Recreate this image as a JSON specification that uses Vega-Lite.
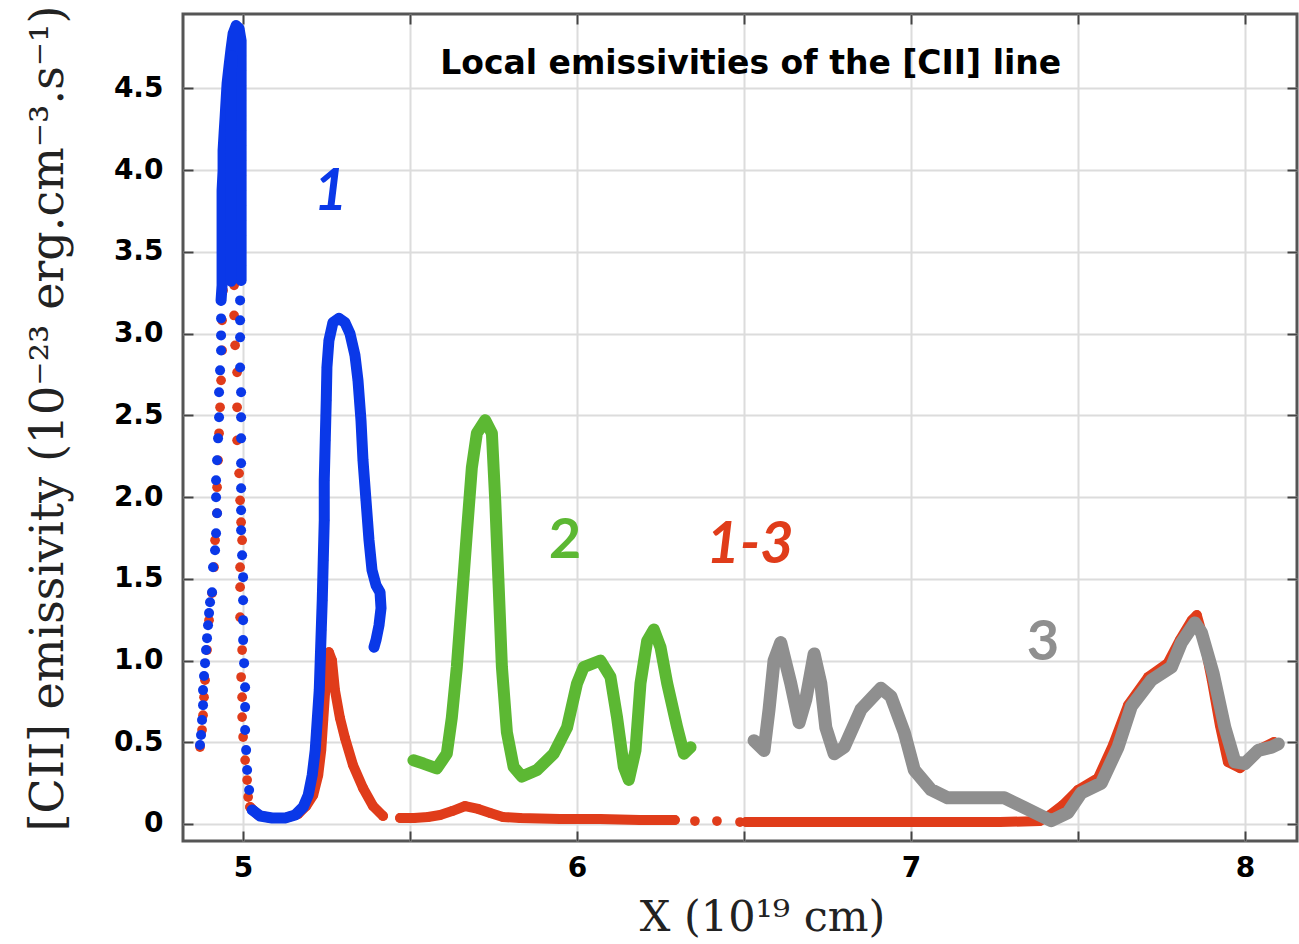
{
  "$schema": "https://vega.github.io/schema/vega-lite/v6.json",
  "width": 1114,
  "height": 827,
  "autosize": "none",
  "padding": {"left": 183, "top": 14, "right": 2, "bottom": 103},
  "background": "white",
  "config": {
    "view": {"stroke": "#555555", "strokeWidth": 3},
    "axis": {"domain": false}
  },
  "datasets": {
    "pts": [
      {"s":"1","g":"dots","x":4.871,"y":0.483},{"s":"1","g":"dots","x":4.874,"y":0.544},{"s":"1","g":"dots","x":4.877,"y":0.636},{"s":"1","g":"dots","x":4.880,"y":0.727},{"s":"1","g":"dots","x":4.880,"y":0.819},{"s":"1","g":"dots","x":4.883,"y":0.905},{"s":"1","g":"dots","x":4.886,"y":0.984},{"s":"1","g":"dots","x":4.889,"y":1.064},{"s":"1","g":"dots","x":4.892,"y":1.137},{"s":"1","g":"dots","x":4.895,"y":1.216},{"s":"1","g":"dots","x":4.898,"y":1.290},{"s":"1","g":"dots","x":4.901,"y":1.357},{"s":"1","g":"dots","x":4.907,"y":1.418},{"s":"1","g":"dots","x":4.910,"y":1.571},{"s":"1","g":"dots","x":4.916,"y":1.675},{"s":"1","g":"dots","x":4.919,"y":1.779},{"s":"1","g":"dots","x":4.922,"y":1.901},{"s":"1","g":"dots","x":4.919,"y":1.999},{"s":"1","g":"dots","x":4.919,"y":2.103},{"s":"1","g":"dots","x":4.922,"y":2.225},{"s":"1","g":"dots","x":4.925,"y":2.359},{"s":"1","g":"dots","x":4.928,"y":2.488},{"s":"1","g":"dots","x":4.928,"y":2.641},{"s":"1","g":"dots","x":4.931,"y":2.775},{"s":"1","g":"dots","x":4.934,"y":2.897},{"s":"1","g":"dots","x":4.934,"y":2.989},{"s":"1","g":"dots","x":4.934,"y":3.093},
      {"s":"1","g":"pl","x":4.934,"y":3.203},{"s":"1","g":"pl","x":4.937,"y":3.295},{"s":"1","g":"pl","x":4.937,"y":3.386},{"s":"1","g":"pl","x":4.937,"y":3.509},{"s":"1","g":"pl","x":4.937,"y":3.631},{"s":"1","g":"pl","x":4.937,"y":3.753},{"s":"1","g":"pl","x":4.937,"y":3.875},{"s":"1","g":"pl","x":4.940,"y":3.998},{"s":"1","g":"pl","x":4.940,"y":4.120},{"s":"1","g":"pl","x":4.943,"y":4.224},{"s":"1","g":"pl","x":4.946,"y":4.322},{"s":"1","g":"pl","x":4.949,"y":4.425},{"s":"1","g":"pl","x":4.952,"y":4.529},{"s":"1","g":"pl","x":4.958,"y":4.639},{"s":"1","g":"pl","x":4.964,"y":4.743},{"s":"1","g":"pl","x":4.970,"y":4.835},{"s":"1","g":"pl","x":4.979,"y":4.884},{"s":"1","g":"pl","x":4.988,"y":4.866},{"s":"1","g":"pl","x":4.994,"y":4.792},{"s":"1","g":"pl","x":4.994,"y":4.700},{"s":"1","g":"pl","x":4.994,"y":4.609},{"s":"1","g":"pl","x":4.994,"y":4.517},{"s":"1","g":"pl","x":4.994,"y":4.425},{"s":"1","g":"pl","x":4.994,"y":4.333},{"s":"1","g":"pl","x":4.994,"y":4.242},{"s":"1","g":"pl","x":4.994,"y":4.150},{"s":"1","g":"pl","x":4.994,"y":4.059},{"s":"1","g":"pl","x":4.994,"y":3.967},{"s":"1","g":"pl","x":4.994,"y":3.875},{"s":"1","g":"pl","x":4.994,"y":3.784},{"s":"1","g":"pl","x":4.994,"y":3.692},{"s":"1","g":"pl","x":4.994,"y":3.600},{"s":"1","g":"pl","x":4.994,"y":3.509},{"s":"1","g":"pl","x":4.994,"y":3.417},{"s":"1","g":"pl","x":4.994,"y":3.325},
      {"s":"1","g":"pm","x":4.966,"y":4.70},{"s":"1","g":"pm","x":4.964,"y":4.50},{"s":"1","g":"pm","x":4.964,"y":4.30},{"s":"1","g":"pm","x":4.965,"y":4.10},{"s":"1","g":"pm","x":4.964,"y":3.90},{"s":"1","g":"pm","x":4.964,"y":3.70},{"s":"1","g":"pm","x":4.965,"y":3.50},{"s":"1","g":"pm","x":4.964,"y":3.32},
      {"s":"1","g":"dots","x":4.991,"y":3.203},{"s":"1","g":"dots","x":4.991,"y":3.081},{"s":"1","g":"dots","x":4.991,"y":2.977},{"s":"1","g":"dots","x":4.991,"y":2.793},{"s":"1","g":"dots","x":4.994,"y":2.641},{"s":"1","g":"dots","x":4.994,"y":2.488},{"s":"1","g":"dots","x":4.994,"y":2.359},{"s":"1","g":"dots","x":4.994,"y":2.207},{"s":"1","g":"dots","x":4.994,"y":2.054},{"s":"1","g":"dots","x":4.994,"y":1.919},{"s":"1","g":"dots","x":4.994,"y":1.797},{"s":"1","g":"dots","x":4.997,"y":1.644},{"s":"1","g":"dots","x":5.0,"y":1.510},{"s":"1","g":"dots","x":5.0,"y":1.369},{"s":"1","g":"dots","x":5.0,"y":1.247},{"s":"1","g":"dots","x":5.0,"y":1.125},{"s":"1","g":"dots","x":5.003,"y":0.984},{"s":"1","g":"dots","x":5.006,"y":0.837},{"s":"1","g":"dots","x":5.006,"y":0.715},{"s":"1","g":"dots","x":5.006,"y":0.575},{"s":"1","g":"dots","x":5.009,"y":0.452},{"s":"1","g":"dots","x":5.012,"y":0.330},{"s":"1","g":"dots","x":5.018,"y":0.208},
      {"s":"1","g":"a","x":5.027,"y":0.086},{"s":"1","g":"a","x":5.051,"y":0.049},{"s":"1","g":"a","x":5.087,"y":0.037},{"s":"1","g":"a","x":5.126,"y":0.037},{"s":"1","g":"a","x":5.156,"y":0.055},{"s":"1","g":"a","x":5.180,"y":0.104},{"s":"1","g":"a","x":5.195,"y":0.177},{"s":"1","g":"a","x":5.207,"y":0.300},{"s":"1","g":"a","x":5.216,"y":0.452},{"s":"1","g":"a","x":5.222,"y":0.636},{"s":"1","g":"a","x":5.228,"y":0.819},{"s":"1","g":"a","x":5.231,"y":1.002},{"s":"1","g":"a","x":5.234,"y":1.186},{"s":"1","g":"a","x":5.237,"y":1.369},{"s":"1","g":"a","x":5.240,"y":1.614},{"s":"1","g":"a","x":5.243,"y":1.858},{"s":"1","g":"a","x":5.243,"y":2.103},{"s":"1","g":"a","x":5.246,"y":2.347},{"s":"1","g":"a","x":5.249,"y":2.592},{"s":"1","g":"a","x":5.251,"y":2.793},{"s":"1","g":"a","x":5.257,"y":2.958},{"s":"1","g":"a","x":5.269,"y":3.068},{"s":"1","g":"a","x":5.287,"y":3.093},{"s":"1","g":"a","x":5.305,"y":3.068},{"s":"1","g":"a","x":5.320,"y":3.001},{"s":"1","g":"a","x":5.335,"y":2.867},{"s":"1","g":"a","x":5.344,"y":2.714},{"s":"1","g":"a","x":5.353,"y":2.469},{"s":"1","g":"a","x":5.359,"y":2.225},{"s":"1","g":"a","x":5.368,"y":1.980},{"s":"1","g":"a","x":5.377,"y":1.736},{"s":"1","g":"a","x":5.386,"y":1.553},{"s":"1","g":"a","x":5.398,"y":1.461},{"s":"1","g":"a","x":5.410,"y":1.418},{"s":"1","g":"a","x":5.413,"y":1.320},{"s":"1","g":"a","x":5.407,"y":1.216},{"s":"1","g":"a","x":5.398,"y":1.125},{"s":"1","g":"a","x":5.392,"y":1.082},

      {"s":"1-3","g":"dots","x":4.871,"y":0.471},{"s":"1-3","g":"dots","x":4.877,"y":0.575},{"s":"1-3","g":"dots","x":4.880,"y":0.666},{"s":"1-3","g":"dots","x":4.883,"y":0.776},{"s":"1-3","g":"dots","x":4.886,"y":0.880},{"s":"1-3","g":"dots","x":4.892,"y":1.064},{"s":"1-3","g":"dots","x":4.898,"y":1.247},{"s":"1-3","g":"dots","x":4.907,"y":1.412},{"s":"1-3","g":"dots","x":4.913,"y":1.571},{"s":"1-3","g":"dots","x":4.916,"y":1.736},{"s":"1-3","g":"dots","x":4.922,"y":1.901},{"s":"1-3","g":"dots","x":4.922,"y":2.060},{"s":"1-3","g":"dots","x":4.925,"y":2.225},{"s":"1-3","g":"dots","x":4.928,"y":2.390},{"s":"1-3","g":"dots","x":4.931,"y":2.549},{"s":"1-3","g":"dots","x":4.934,"y":2.714},{"s":"1-3","g":"dots","x":4.937,"y":2.897},{"s":"1-3","g":"dots","x":4.937,"y":3.081},{"s":"1-3","g":"dots","x":4.940,"y":3.264},{"s":"1-3","g":"dots","x":4.946,"y":3.435},{"s":"1-3","g":"dots","x":4.952,"y":3.600},{"s":"1-3","g":"dots","x":4.958,"y":3.753},{"s":"1-3","g":"dots","x":4.964,"y":3.888},{"s":"1-3","g":"dots","x":4.970,"y":3.845},{"s":"1-3","g":"dots","x":4.973,"y":3.661},{"s":"1-3","g":"dots","x":4.973,"y":3.478},{"s":"1-3","g":"dots","x":4.973,"y":3.295},{"s":"1-3","g":"dots","x":4.973,"y":3.111},{"s":"1-3","g":"dots","x":4.976,"y":2.928},{"s":"1-3","g":"dots","x":4.982,"y":2.763},{"s":"1-3","g":"dots","x":4.982,"y":2.549},{"s":"1-3","g":"dots","x":4.982,"y":2.347},{"s":"1-3","g":"dots","x":4.988,"y":2.145},{"s":"1-3","g":"dots","x":4.991,"y":1.980},{"s":"1-3","g":"dots","x":4.994,"y":1.846},{"s":"1-3","g":"dots","x":4.997,"y":1.736},{"s":"1-3","g":"dots","x":4.991,"y":1.571},{"s":"1-3","g":"dots","x":4.991,"y":1.449},{"s":"1-3","g":"dots","x":4.991,"y":1.265},{"s":"1-3","g":"dots","x":4.997,"y":1.064},{"s":"1-3","g":"dots","x":4.994,"y":0.899},{"s":"1-3","g":"dots","x":4.997,"y":0.776},{"s":"1-3","g":"dots","x":4.997,"y":0.654},{"s":"1-3","g":"dots","x":5.0,"y":0.532},{"s":"1-3","g":"dots","x":5.006,"y":0.391},{"s":"1-3","g":"dots","x":5.012,"y":0.269},{"s":"1-3","g":"dots","x":5.015,"y":0.165},
      {"s":"1-3","g":"a","x":5.021,"y":0.104},{"s":"1-3","g":"a","x":5.045,"y":0.055},{"s":"1-3","g":"a","x":5.081,"y":0.037},{"s":"1-3","g":"a","x":5.126,"y":0.037},{"s":"1-3","g":"a","x":5.165,"y":0.061},{"s":"1-3","g":"a","x":5.189,"y":0.110},{"s":"1-3","g":"a","x":5.210,"y":0.177},{"s":"1-3","g":"a","x":5.225,"y":0.300},{"s":"1-3","g":"a","x":5.234,"y":0.452},{"s":"1-3","g":"a","x":5.240,"y":0.636},{"s":"1-3","g":"a","x":5.246,"y":0.819},{"s":"1-3","g":"a","x":5.251,"y":0.972},{"s":"1-3","g":"a","x":5.257,"y":1.051},{"s":"1-3","g":"a","x":5.266,"y":1.002},{"s":"1-3","g":"a","x":5.275,"y":0.819},{"s":"1-3","g":"a","x":5.290,"y":0.648},{"s":"1-3","g":"a","x":5.305,"y":0.526},{"s":"1-3","g":"a","x":5.329,"y":0.361},{"s":"1-3","g":"a","x":5.359,"y":0.220},{"s":"1-3","g":"a","x":5.389,"y":0.110},{"s":"1-3","g":"a","x":5.419,"y":0.049},
      {"s":"1-3","g":"b","x":5.470,"y":0.037},{"s":"1-3","g":"b","x":5.512,"y":0.037},{"s":"1-3","g":"b","x":5.554,"y":0.043},{"s":"1-3","g":"b","x":5.590,"y":0.055},{"s":"1-3","g":"b","x":5.626,"y":0.079},{"s":"1-3","g":"b","x":5.665,"y":0.110},{"s":"1-3","g":"b","x":5.704,"y":0.092},{"s":"1-3","g":"b","x":5.740,"y":0.067},{"s":"1-3","g":"b","x":5.778,"y":0.043},{"s":"1-3","g":"b","x":5.829,"y":0.037},{"s":"1-3","g":"b","x":5.949,"y":0.031},{"s":"1-3","g":"b","x":6.069,"y":0.031},{"s":"1-3","g":"b","x":6.189,"y":0.024},{"s":"1-3","g":"b","x":6.293,"y":0.024},
      {"s":"1-3","g":"dots","x":6.353,"y":0.018},{"s":"1-3","g":"dots","x":6.419,"y":0.018},{"s":"1-3","g":"dots","x":6.488,"y":0.012},
      {"s":"1-3","g":"c","x":6.506,"y":0.012},{"s":"1-3","g":"c","x":6.668,"y":0.012},{"s":"1-3","g":"c","x":6.967,"y":0.012},{"s":"1-3","g":"c","x":7.266,"y":0.012},{"s":"1-3","g":"c","x":7.386,"y":0.018},{"s":"1-3","g":"c","x":7.416,"y":0.055},{"s":"1-3","g":"c","x":7.455,"y":0.116},{"s":"1-3","g":"c","x":7.5,"y":0.208},{"s":"1-3","g":"c","x":7.56,"y":0.281},{"s":"1-3","g":"c","x":7.605,"y":0.483},{"s":"1-3","g":"c","x":7.650,"y":0.727},{"s":"1-3","g":"c","x":7.710,"y":0.899},{"s":"1-3","g":"c","x":7.769,"y":0.984},{"s":"1-3","g":"c","x":7.805,"y":1.125},{"s":"1-3","g":"c","x":7.841,"y":1.247},{"s":"1-3","g":"c","x":7.856,"y":1.278},{"s":"1-3","g":"c","x":7.877,"y":1.125},{"s":"1-3","g":"c","x":7.901,"y":0.880},{"s":"1-3","g":"c","x":7.925,"y":0.605},{"s":"1-3","g":"c","x":7.949,"y":0.379},{"s":"1-3","g":"c","x":7.985,"y":0.342},{"s":"1-3","g":"c","x":8.021,"y":0.403},{"s":"1-3","g":"c","x":8.051,"y":0.465},{"s":"1-3","g":"c","x":8.087,"y":0.501},

      {"s":"2","g":"a","x":5.51,"y":0.39},{"s":"2","g":"a","x":5.54,"y":0.37},{"s":"2","g":"a","x":5.58,"y":0.34},{"s":"2","g":"a","x":5.61,"y":0.43},{"s":"2","g":"a","x":5.625,"y":0.65},{"s":"2","g":"a","x":5.64,"y":0.96},{"s":"2","g":"a","x":5.655,"y":1.37},{"s":"2","g":"a","x":5.67,"y":1.78},{"s":"2","g":"a","x":5.685,"y":2.18},{"s":"2","g":"a","x":5.70,"y":2.39},{"s":"2","g":"a","x":5.725,"y":2.47},{"s":"2","g":"a","x":5.745,"y":2.39},{"s":"2","g":"a","x":5.755,"y":1.98},{"s":"2","g":"a","x":5.765,"y":1.47},{"s":"2","g":"a","x":5.775,"y":0.96},{"s":"2","g":"a","x":5.79,"y":0.56},{"s":"2","g":"a","x":5.81,"y":0.35},{"s":"2","g":"a","x":5.835,"y":0.29},{"s":"2","g":"a","x":5.88,"y":0.33},{"s":"2","g":"a","x":5.93,"y":0.43},{"s":"2","g":"a","x":5.97,"y":0.59},{"s":"2","g":"a","x":6.0,"y":0.86},{"s":"2","g":"a","x":6.02,"y":0.96},{"s":"2","g":"a","x":6.07,"y":1.0},{"s":"2","g":"a","x":6.10,"y":0.90},{"s":"2","g":"a","x":6.12,"y":0.65},{"s":"2","g":"a","x":6.14,"y":0.35},{"s":"2","g":"a","x":6.155,"y":0.27},{"s":"2","g":"a","x":6.175,"y":0.45},{"s":"2","g":"a","x":6.19,"y":0.86},{"s":"2","g":"a","x":6.21,"y":1.12},{"s":"2","g":"a","x":6.23,"y":1.19},{"s":"2","g":"a","x":6.25,"y":1.08},{"s":"2","g":"a","x":6.27,"y":0.86},{"s":"2","g":"a","x":6.30,"y":0.59},{"s":"2","g":"a","x":6.32,"y":0.43},{"s":"2","g":"a","x":6.34,"y":0.47},

      {"s":"3","g":"a","x":6.53,"y":0.51},{"s":"3","g":"a","x":6.56,"y":0.45},{"s":"3","g":"a","x":6.575,"y":0.70},{"s":"3","g":"a","x":6.59,"y":1.0},{"s":"3","g":"a","x":6.61,"y":1.11},{"s":"3","g":"a","x":6.64,"y":0.86},{"s":"3","g":"a","x":6.665,"y":0.62},{"s":"3","g":"a","x":6.685,"y":0.76},{"s":"3","g":"a","x":6.71,"y":1.04},{"s":"3","g":"a","x":6.73,"y":0.86},{"s":"3","g":"a","x":6.745,"y":0.59},{"s":"3","g":"a","x":6.77,"y":0.43},{"s":"3","g":"a","x":6.80,"y":0.47},{"s":"3","g":"a","x":6.85,"y":0.70},{"s":"3","g":"a","x":6.91,"y":0.83},{"s":"3","g":"a","x":6.94,"y":0.78},{"s":"3","g":"a","x":6.98,"y":0.56},{"s":"3","g":"a","x":7.01,"y":0.33},{"s":"3","g":"a","x":7.06,"y":0.21},{"s":"3","g":"a","x":7.11,"y":0.16},{"s":"3","g":"a","x":7.28,"y":0.16},{"s":"3","g":"a","x":7.34,"y":0.10},{"s":"3","g":"a","x":7.42,"y":0.02},{"s":"3","g":"a","x":7.47,"y":0.07},{"s":"3","g":"a","x":7.51,"y":0.19},{"s":"3","g":"a","x":7.57,"y":0.25},{"s":"3","g":"a","x":7.62,"y":0.47},{"s":"3","g":"a","x":7.66,"y":0.72},{"s":"3","g":"a","x":7.72,"y":0.88},{"s":"3","g":"a","x":7.78,"y":0.96},{"s":"3","g":"a","x":7.81,"y":1.11},{"s":"3","g":"a","x":7.85,"y":1.23},{"s":"3","g":"a","x":7.87,"y":1.17},{"s":"3","g":"a","x":7.905,"y":0.92},{"s":"3","g":"a","x":7.94,"y":0.59},{"s":"3","g":"a","x":7.97,"y":0.38},{"s":"3","g":"a","x":8.0,"y":0.37},{"s":"3","g":"a","x":8.04,"y":0.45},{"s":"3","g":"a","x":8.08,"y":0.47},{"s":"3","g":"a","x":8.10,"y":0.49}
    ],
    "labels": [
      {"t":"1","s":"1","x":5.262,"y":3.86,"it":"y"},
      {"t":"2","s":"2","x":5.964,"y":1.73,"it":"n"},
      {"t":"1-3","s":"1-3","x":6.518,"y":1.70,"it":"y"},
      {"t":"3","s":"3","x":7.395,"y":1.11,"it":"n"}
    ],
    "title": [
      {"t":"Local emissivities of the [CII] line","x":6.52,"y":4.65}
    ]
  },
  "resolve": {"axis": {"x": "independent", "y": "independent"}},
  "layer": [
    {
      "data": {"name": "pts"},
      "transform": [{"filter": "datum.s == '1-3'"}],
      "mark": {"type": "point", "filled": true, "size": 95, "opacity": 1, "color": "#e03c1a"},
      "encoding": {
        "x": {"field": "x", "type": "quantitative", "scale": {"domain": [4.82, 8.156], "nice": false, "zero": false},
          "axis": {"orient": "bottom", "values": [5, 5.5, 6, 6.5, 7, 7.5, 8], "labelExpr": "datum.value % 1 == 0 ? format(datum.value, 'd') : ''",
            "grid": true, "gridColor": "#dcdcdc", "gridWidth": 2, "ticks": true, "tickSize": -10, "tickColor": "#444444", "tickWidth": 2,
            "labelFont": "DejaVu Sans", "labelFontWeight": "bold", "labelFontSize": 28, "labelColor": "#000000", "labelPadding": 23,
            "title": "X (10¹⁹ cm)", "titleFont": "DejaVu Serif", "titleFontSize": 43, "titleFontWeight": "normal", "titleColor": "#222222",
            "titleX": 579, "titleY": 89, "titleBaseline": "alphabetic", "titleAlign": "center"}},
        "y": {"field": "y", "type": "quantitative", "scale": {"domain": [-0.104, 4.955], "nice": false, "zero": false},
          "axis": {"orient": "left", "values": [0, 0.5, 1, 1.5, 2, 2.5, 3, 3.5, 4, 4.5], "labelExpr": "datum.value == 0 ? '0' : format(datum.value, '.1f')",
            "grid": true, "gridColor": "#dcdcdc", "gridWidth": 2, "ticks": true, "tickSize": -10, "tickColor": "#444444", "tickWidth": 2,
            "labelFont": "DejaVu Sans", "labelFontWeight": "bold", "labelFontSize": 28, "labelColor": "#000000", "labelPadding": 30,
            "title": "[CII] emissivity (10⁻²³ erg.cm⁻³.s⁻¹)", "titleFont": "DejaVu Serif", "titleFontSize": 46, "titleFontWeight": "normal", "titleColor": "#222222",
            "titleX": -135, "titleY": 404, "titleBaseline": "middle", "titleAlign": "center", "titleAngle": -90}}
      }
    },
    {
      "data": {"name": "pts"},
      "transform": [{"filter": "datum.s == '1-3' && datum.g != 'dots'"}],
      "mark": {"type": "line", "color": "#e03c1a", "strokeWidth": 10, "strokeCap": "round", "strokeJoin": "round"},
      "encoding": {
        "x": {"field": "x", "type": "quantitative", "scale": {"domain": [4.82, 8.156], "nice": false, "zero": false}, "axis": null},
        "y": {"field": "y", "type": "quantitative", "scale": {"domain": [-0.104, 4.955], "nice": false, "zero": false}, "axis": null},
        "detail": {"field": "g"},
        "order": {"value": null}
      }
    },
    {
      "data": {"name": "pts"},
      "transform": [{"filter": "datum.s == '1'"}],
      "mark": {"type": "point", "filled": true, "size": 100, "opacity": 1, "color": "#0a38e8"},
      "encoding": {
        "x": {"field": "x", "type": "quantitative", "scale": {"domain": [4.82, 8.156], "nice": false, "zero": false}, "axis": null},
        "y": {"field": "y", "type": "quantitative", "scale": {"domain": [-0.104, 4.955], "nice": false, "zero": false}, "axis": null}
      }
    },
    {
      "data": {"name": "pts"},
      "transform": [{"filter": "datum.s == '1' && datum.g != 'dots'"}],
      "mark": {"type": "line", "color": "#0a38e8", "strokeWidth": 11, "strokeCap": "round", "strokeJoin": "round"},
      "encoding": {
        "x": {"field": "x", "type": "quantitative", "scale": {"domain": [4.82, 8.156], "nice": false, "zero": false}, "axis": null},
        "y": {"field": "y", "type": "quantitative", "scale": {"domain": [-0.104, 4.955], "nice": false, "zero": false}, "axis": null},
        "detail": {"field": "g"},
        "order": {"value": null}
      }
    },
    {
      "data": {"name": "pts"},
      "transform": [{"filter": "datum.s == '2'"}],
      "mark": {"type": "line", "color": "#5cb833", "strokeWidth": 12, "strokeCap": "round", "strokeJoin": "round"},
      "encoding": {
        "x": {"field": "x", "type": "quantitative", "scale": {"domain": [4.82, 8.156], "nice": false, "zero": false}, "axis": null},
        "y": {"field": "y", "type": "quantitative", "scale": {"domain": [-0.104, 4.955], "nice": false, "zero": false}, "axis": null},
        "order": {"value": null}
      }
    },
    {
      "data": {"name": "pts"},
      "transform": [{"filter": "datum.s == '3'"}],
      "mark": {"type": "line", "color": "#8f8f8f", "strokeWidth": 13, "strokeCap": "round", "strokeJoin": "round"},
      "encoding": {
        "x": {"field": "x", "type": "quantitative", "scale": {"domain": [4.82, 8.156], "nice": false, "zero": false}, "axis": null},
        "y": {"field": "y", "type": "quantitative", "scale": {"domain": [-0.104, 4.955], "nice": false, "zero": false}, "axis": null},
        "order": {"value": null}
      }
    },
    {
      "data": {"name": "labels"},
      "transform": [{"filter": "datum.it == 'y'"}],
      "mark": {"type": "text", "font": "Lato", "fontWeight": "bold", "fontStyle": "italic", "fontSize": 58, "align": "center", "baseline": "middle"},
      "encoding": {
        "x": {"field": "x", "type": "quantitative", "scale": {"domain": [4.82, 8.156], "nice": false, "zero": false}, "axis": null},
        "y": {"field": "y", "type": "quantitative", "scale": {"domain": [-0.104, 4.955], "nice": false, "zero": false}, "axis": null},
        "text": {"field": "t"},
        "color": {"field": "s", "type": "nominal", "scale": {"domain": ["1", "2", "1-3", "3"], "range": ["#0a38e8", "#5cb833", "#e03c1a", "#8f8f8f"]}, "legend": null}
      }
    },
    {
      "data": {"name": "labels"},
      "transform": [{"filter": "datum.it == 'n'"}],
      "mark": {"type": "text", "font": "Lato", "fontWeight": "bold", "fontSize": 56, "align": "center", "baseline": "middle"},
      "encoding": {
        "x": {"field": "x", "type": "quantitative", "scale": {"domain": [4.82, 8.156], "nice": false, "zero": false}, "axis": null},
        "y": {"field": "y", "type": "quantitative", "scale": {"domain": [-0.104, 4.955], "nice": false, "zero": false}, "axis": null},
        "text": {"field": "t"},
        "color": {"field": "s", "type": "nominal", "scale": {"domain": ["1", "2", "1-3", "3"], "range": ["#0a38e8", "#5cb833", "#e03c1a", "#8f8f8f"]}, "legend": null}
      }
    },
    {
      "data": {"name": "title"},
      "mark": {"type": "text", "font": "DejaVu Sans", "fontWeight": "bold", "fontSize": 33, "align": "center", "baseline": "middle", "color": "#000000"},
      "encoding": {
        "x": {"field": "x", "type": "quantitative", "scale": {"domain": [4.82, 8.156], "nice": false, "zero": false},
          "axis": {"orient": "top", "values": [5, 5.5, 6, 6.5, 7, 7.5, 8], "labels": false, "grid": false, "ticks": true, "tickSize": -10, "tickColor": "#444444", "tickWidth": 2, "title": null}},
        "y": {"field": "y", "type": "quantitative", "scale": {"domain": [-0.104, 4.955], "nice": false, "zero": false},
          "axis": {"orient": "right", "values": [0, 0.5, 1, 1.5, 2, 2.5, 3, 3.5, 4, 4.5], "labels": false, "grid": false, "ticks": true, "tickSize": -10, "tickColor": "#444444", "tickWidth": 2, "title": null}},
        "text": {"field": "t"}
      }
    }
  ]
}
